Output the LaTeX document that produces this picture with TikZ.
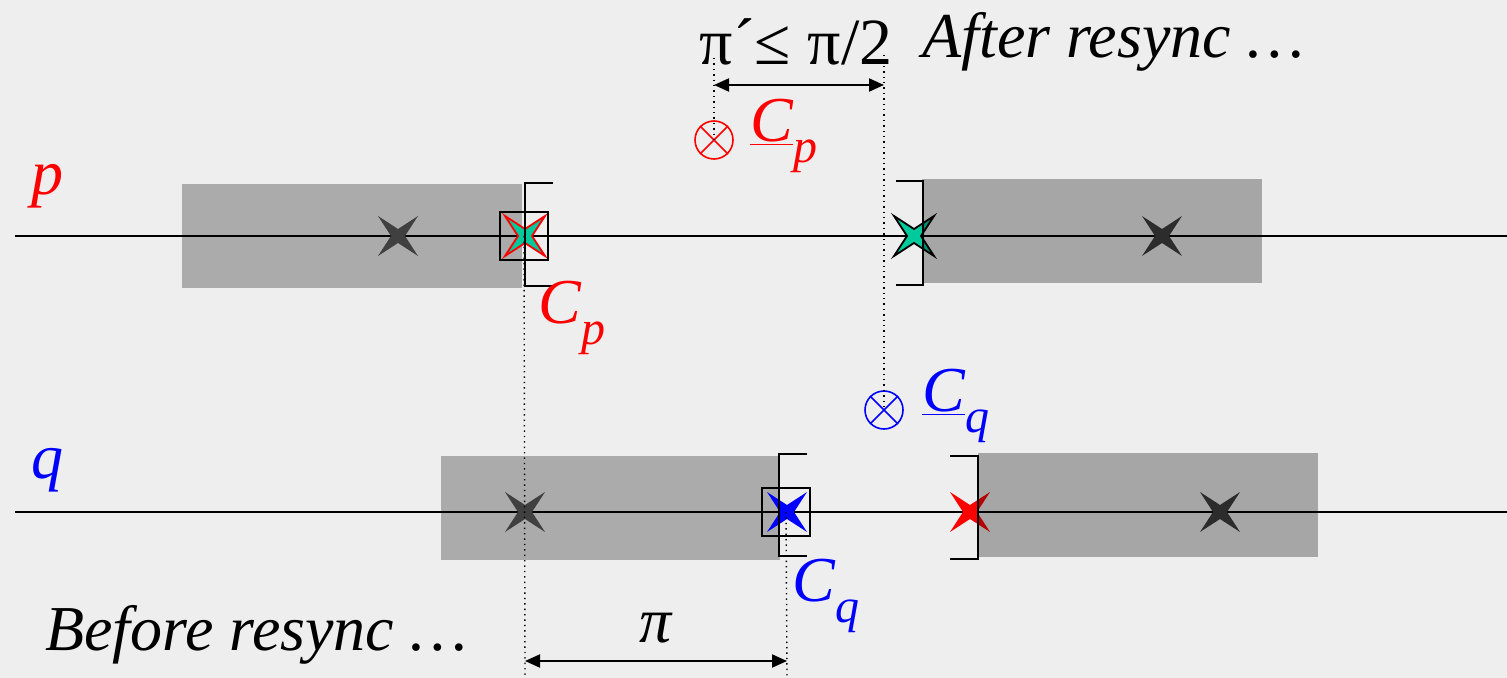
\documentclass[tikz,border=0pt]{standalone}
\usepackage{fontspec}
\setmainfont{Liberation Serif}
\usetikzlibrary{positioning,arrows.meta}
\definecolor{clkteal}{HTML}{00C99B}
\definecolor{bgtone}{HTML}{EEEEEE}
\newcommand{\clk}[2]{\textit{#1}\raisebox{-0.34em}{\fontsize{24}{24}\selectfont\itshape #2}}
\newcommand{\uclk}[2]{\underline{\textit{#1}}\raisebox{-0.34em}{\fontsize{24}{24}\selectfont\itshape #2}}

\begin{document}
\begin{tikzpicture}[x=0.5pt, y=-0.5pt,
  txt/.style={font=\fontsize{33}{36}\selectfont, inner sep=0pt},
  lbl/.style={font=\fontsize{32}{36}\selectfont\itshape, inner sep=0pt},
  band/.style={fill=black!33, draw=none},
  bandtop/.style={fill=black, fill opacity=0.3, draw=none},
  timeline/.style={draw=black, line width=0.75pt},
  brk/.style={draw=black, line width=1pt},
  guide/.style={draw=black, dotted, line width=0.7pt},
  span/.style={{Triangle[length=7.5pt,width=6.5pt]}-{Triangle[length=7.5pt,width=6.5pt]}, draw=black, line width=1pt},
  otimes/.style={circle, draw, line width=0.8pt, minimum size=19pt, inner sep=0pt},
  xstar/.pic={\path[pic actions] (20,20) -- (0,7) -- (-20,20) -- (-7,0) -- (-20,-20)
                -- (0,-7) -- (20,-20) -- (7,0) -- cycle;}
]
\useasboundingbox (0,0) rectangle (1507,678);
\fill[bgtone] (0,0) rectangle (1507,678);

% left bands (under the clocks)
\fill[band] (182,184) rectangle (522,288);
\fill[band] (441,456) rectangle (780,560);

% time lines
\node[lbl, text=red] (lp) at (47,186) {p};
\node[lbl, text=blue] (lq) at (47,470) {q};
\coordinate (p0) at (15,236);  \coordinate (p1) at (1507,236);
\coordinate (q0) at (15,512);  \coordinate (q1) at (1507,512);
\draw[timeline] (p0) -- (p1);
\draw[timeline] (q0) -- (q1);

% ticks of the clocks
\foreach \x/\y in {398/236, 1162/236, 525/512, 1220/512}
  \pic[fill=black!75] at (\x,\y) {xstar};
\pic[fill=clkteal, draw=red, line width=0.9pt] at (525,236) {xstar};
\pic[fill=clkteal, draw=black, line width=0.9pt] at (914,236) {xstar};
\pic[fill=blue] at (787,512) {xstar};
\pic[fill=red] at (970,512) {xstar};

% right bands (over the clocks)
\fill[bandtop] (922,179) rectangle (1262,283);
\fill[bandtop] (978,453) rectangle (1318,557);

% boxes round the read clocks
\node[draw, line width=1pt, minimum size=24pt, inner sep=0pt] (bp) at (524,236) {};
\node[draw, line width=1pt, minimum size=24pt, inner sep=0pt] (bq) at (786,512) {};

% brackets
\draw[brk] (553,183) -| (525,286) -- (553,286);
\draw[brk] (896,181) -| (923,285) -- (896,285);
\draw[brk] (807,454) -| (779,556) -- (807,556);
\draw[brk] (950,456) -| (978,559) -- (950,559);

% clock labels
\node[lbl, text=red, anchor=west] (cp) at (538,318) {\clk{C}{p}};
\node[lbl, text=blue, anchor=west] (cq) at (792,596) {\clk{C}{q}};

% averaged values
\node[otimes, draw=red] (avp) at (714,140) {};
\draw[red, line width=0.8pt] (avp.north west) -- (avp.south east) (avp.north east) -- (avp.south west);
\node[lbl, text=red, anchor=west] (acp) at (750,136) {\uclk{C}{p}};
\node[otimes, draw=blue] (avq) at (884,410) {};
\draw[blue, line width=0.8pt] (avq.north west) -- (avq.south east) (avq.north east) -- (avq.south west);
\node[lbl, text=blue, anchor=west] (acq) at (922,406) {\uclk{C}{q}};

% after resync
\node[txt] (pi2) at (796,42) {π´≤ π/2};
\node[lbl, anchor=west] (after) at (922,42) {After resync …};
\coordinate (ta) at (714,58);
\coordinate (tb) at (884,55);
\draw[guide] (ta) -- (avp.center);
\draw[guide] (tb) -- (avq.center);
\draw[span] (714,85) -- (884,85);

% before resync
\node[lbl, anchor=west] (before) at (45,635) {Before resync …};
\node[lbl] (pi1) at (656,628) {π};
\coordinate (ga) at (525,678);
\coordinate (gb) at (787,678);
\draw[guide] (bp.center) -- (ga);
\draw[guide] (bq.center) -- (gb);
\draw[span] (525,661) -- (787,661);
\end{tikzpicture}
\end{document}
